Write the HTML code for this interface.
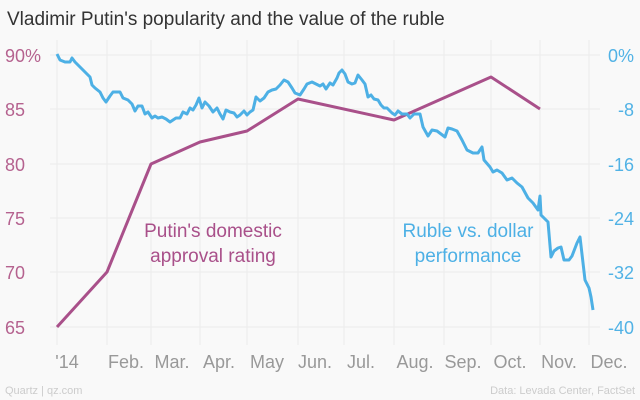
<!DOCTYPE html>
<html><head><meta charset="utf-8"><style>
body{margin:0;background:#f9f9f9;}
svg{display:block;font-family:"Liberation Sans",sans-serif;}
</style></head><body>
<svg width="640" height="400" viewBox="0 0 640 400">
<rect width="640" height="400" fill="#f9f9f9"/>
<text x="7" y="25" font-size="19" fill="#333">Vladimir Putin's popularity and the value of the ruble</text>
<g stroke="#ececec" stroke-width="1">
<line x1="50" x2="600" y1="55" y2="55"/><line x1="50" x2="600" y1="109" y2="109"/>
<line x1="50" x2="600" y1="164" y2="164"/><line x1="50" x2="600" y1="218" y2="218"/>
<line x1="50" x2="600" y1="272" y2="272"/><line x1="50" x2="600" y1="327" y2="327"/>
<line x1="57" x2="57" y1="40" y2="345"/><line x1="107" x2="107" y1="40" y2="345"/>
<line x1="151" x2="151" y1="40" y2="345"/><line x1="200" x2="200" y1="40" y2="345"/>
<line x1="247" x2="247" y1="40" y2="345"/><line x1="298" x2="298" y1="40" y2="345"/>
<line x1="344" x2="344" y1="40" y2="345"/><line x1="394" x2="394" y1="40" y2="345"/>
<line x1="444" x2="444" y1="40" y2="345"/><line x1="491" x2="491" y1="40" y2="345"/>
<line x1="540" x2="540" y1="40" y2="345"/><line x1="589" x2="589" y1="40" y2="345"/>
</g>
<g font-size="18" fill="#b5628f">
<text x="5" y="62">90%</text><text x="5" y="116">85</text><text x="5" y="171">80</text>
<text x="5" y="225">75</text><text x="5" y="279">70</text><text x="5" y="334">65</text>
</g>
<g font-size="18" fill="#51b2e5" text-anchor="end">
<text x="634" y="62">0%</text><text x="634" y="116">-8</text><text x="634" y="171">-16</text>
<text x="634" y="225">-24</text><text x="634" y="279">-32</text><text x="634" y="334">-40</text>
</g>
<g font-size="18" fill="#999" text-anchor="middle">
<text x="67" y="368">'14</text><text x="126" y="368">Feb.</text><text x="172" y="368">Mar.</text>
<text x="219" y="368">Apr.</text><text x="267" y="368">May</text><text x="315" y="368">Jun.</text>
<text x="361" y="368">Jul.</text><text x="415" y="368">Aug.</text><text x="463" y="368">Sep.</text>
<text x="510" y="368">Oct.</text><text x="559" y="368">Nov.</text><text x="609" y="368">Dec.</text>
</g>
<polyline fill="none" stroke="#a9508a" stroke-width="3" stroke-linejoin="round" points="57,327 107,272 151,164 200,142 247,131 298,99 394,120 491,77 540,109"/>
<polyline fill="none" stroke="#4db0e5" stroke-width="3" stroke-linejoin="round" points="57,54 60,60 65,62 70,62 72,58 75,62 80,67 85,72 90,77 92,85 95,88 100,92 103,98 106,102 110,96 113,92 120,92 123,98 128,100 132,104 135,111 138,106 142,106 145,114 148,112 152,118 155,116 158,118 162,117 166,119 170,122 173,120 176,118 180,118 183,112 187,114 190,108 193,110 196,105 199,98 202,108 205,102 209,106 213,112 217,108 220,114 223,119 226,110 230,112 234,113 237,117 240,115 244,111 247,115 250,112 253,110 256,97 260,101 264,98 268,92 272,90 276,89 280,85 284,80 288,82 292,88 295,93 300,95 304,89 307,84 312,82 316,84 320,86 323,84 326,89 330,83 333,85 337,78 339,73 342,70 345,74 348,82 352,84 355,83 358,75 362,80 365,84 368,97 371,95 374,99 378,100 381,105 384,108 387,108 392,113 395,115 398,111 402,114 407,114 410,118 414,114 420,114 423,127 428,136 432,130 437,131 441,134 445,137 448,128 452,129 457,131 462,140 467,150 473,153 478,153 482,147 484,160 490,167 493,172 497,170 502,173 507,180 512,178 517,183 522,187 528,198 533,203 538,210 540,196 541,215 548,222 551,257 554,251 558,248 561,247 564,260 569,260 572,256 577,243 580,237 585,280 589,288 591,297 593,310"/>
<g font-size="19" fill="#a9508a" text-anchor="middle"><text x="213" y="237">Putin's domestic</text><text x="213" y="262">approval rating</text></g>
<g font-size="19" fill="#4db0e5" text-anchor="middle"><text x="468" y="237">Ruble vs. dollar</text><text x="468" y="262">performance</text></g>
<text x="5" y="394" font-size="11" fill="#ccc">Quartz | qz.com</text>
<text x="635" y="394" font-size="11" fill="#ccc" text-anchor="end">Data: Levada Center, FactSet</text>
</svg>
</body></html>
